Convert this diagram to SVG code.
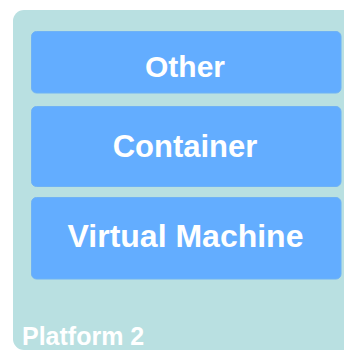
<svg xmlns="http://www.w3.org/2000/svg" width="344" height="351" viewBox="0 0 344 351">
  <style>
    .platform { fill: #b9e0e1; }
    .layer { fill: #63adff; stroke: #6fb2f5; stroke-width: 1; }
    .label { font-family: "Liberation Sans", Arial, sans-serif; font-weight: bold; fill: #ffffff; text-anchor: middle; }
    .title { font-family: "Liberation Sans", Arial, sans-serif; font-weight: bold; fill: #ffffff; font-size: 25px; }
  </style>
  <g id="platform-2">
    <rect class="platform" x="13" y="10" width="345" height="340" rx="11" ry="11"/>
    <text class="title" x="22" y="345">Platform 2</text>
  </g>
  <g id="layer-other">
    <rect class="layer" x="31.5" y="31.5" width="309.5" height="61.5" rx="5" ry="5"/>
    <text class="label" x="185" y="77" font-size="30">Other</text>
  </g>
  <g id="layer-container">
    <rect class="layer" x="31.5" y="106.5" width="309.5" height="80" rx="5" ry="5"/>
    <text class="label" x="185" y="157" font-size="31">Container</text>
  </g>
  <g id="layer-vm">
    <rect class="layer" x="31.5" y="197.5" width="309.5" height="81.5" rx="5" ry="5"/>
    <text class="label" x="185.5" y="247" font-size="32">Virtual Machine</text>
  </g>
  <g id="connectors"/>
</svg>
